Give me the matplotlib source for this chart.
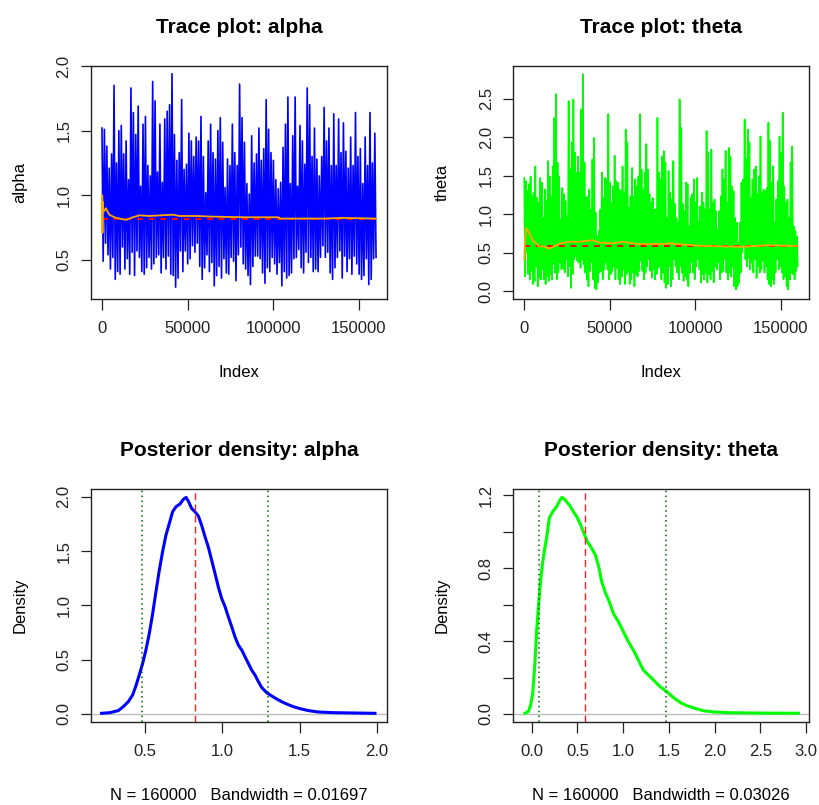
import matplotlib.pyplot as plt
import numpy as np

plt.rcParams['font.family'] = ['Liberation Sans', 'DejaVu Sans']
# the chains are dense zigzags; keep every vertex when rendering
plt.rcParams['path.simplify'] = False

n_iter = 160000

# chain envelopes: upper and lower excursions along the chain (paired)
alpha_hi = [1.52, 1.51, 1.38, 1.21, 1.32, 1.85, 1.25, 1.50, 1.54, 1.32,
            1.42, 1.12, 1.83, 1.64, 1.47, 1.69, 1.07, 1.55, 1.61, 1.23,
            1.15, 1.88, 1.73, 1.18, 1.55, 1.10, 1.59, 1.65, 1.70, 1.94,
            1.47, 1.27, 1.33, 1.74, 1.20, 1.24, 1.48, 1.42, 1.30, 1.45,
            1.42, 1.61, 1.30, 1.02, 1.42, 1.55, 1.33, 1.28, 1.50, 1.60,
            1.41, 1.06, 1.28, 1.23, 1.55, 1.33, 1.23, 1.86,
            1.60, 1.41, 1.09, 1.01, 1.46, 1.25, 1.32, 1.52, 1.27, 1.36,
            1.74, 1.51, 1.33, 1.27, 1.12, 1.05, 1.10, 1.37, 1.55, 1.76,
            1.09, 1.46, 1.76, 1.07, 1.54, 1.42, 1.24, 1.83, 1.70, 1.30,
            1.52, 1.28, 1.15, 1.30, 1.68, 1.42, 1.52, 1.23, 1.63, 1.23,
            1.59, 1.33, 1.56, 1.34, 1.21, 1.45, 1.23, 1.64, 1.30, 1.36,
            1.09, 1.45, 1.23, 1.64, 1.25, 1.48]
alpha_lo = [0.49, 0.63, 0.54, 0.43, 0.52, 0.35, 0.41, 0.39, 0.60, 0.43,
            0.51, 0.39, 0.56, 0.38, 0.57, 0.52, 0.41, 0.39, 0.44, 0.52,
            0.43, 0.47, 0.52, 0.54, 0.40, 0.52, 0.43, 0.53, 0.39, 0.38,
            0.29, 0.36, 0.57, 0.41, 0.57, 0.47, 0.51, 0.61, 0.56, 0.63,
            0.45, 0.35, 0.44, 0.54, 0.41, 0.48, 0.30, 0.38, 0.45, 0.36,
            0.51, 0.40, 0.39, 0.52, 0.49, 0.34, 0.54, 0.60,
            0.47, 0.43, 0.38, 0.31, 0.45, 0.53, 0.53, 0.51, 0.40, 0.32,
            0.44, 0.41, 0.52, 0.47, 0.39, 0.48, 0.30, 0.41, 0.36, 0.38,
            0.40, 0.51, 0.52, 0.58, 0.44, 0.40, 0.56, 0.48, 0.52, 0.41,
            0.43, 0.41, 0.52, 0.61, 0.52, 0.56, 0.40, 0.35, 0.44, 0.52,
            0.57, 0.36, 0.53, 0.41, 0.51, 0.39, 0.53, 0.47, 0.39, 0.35,
            0.38, 0.51, 0.31, 0.35, 0.51, 0.52]

theta_hi = [1.47, 1.43, 1.30, 1.39, 1.49, 1.23, 1.28, 1.62, 1.21, 1.15,
            1.47, 1.41, 0.95, 1.32, 1.17, 1.69, 1.49, 1.23, 1.62, 2.25,
            2.56, 1.67, 1.49, 0.93, 1.34, 1.26, 1.17, 0.97, 2.47, 1.58,
            1.93, 2.49, 1.80, 1.54, 1.75, 1.54, 2.36, 2.82, 1.67, 1.21,
            1.23, 1.32, 1.06, 1.71, 1.99, 1.02, 0.71, 0.78, 1.06, 1.54,
            1.21, 1.47, 1.45, 2.30, 1.41, 1.15, 1.36, 1.76, 1.43, 1.41,
            1.32, 1.30, 1.62, 1.28, 2.10, 1.93, 1.08, 1.23, 1.60, 1.23,
            1.45, 1.36, 1.49, 2.30, 1.58, 1.32, 1.54, 1.91, 1.58, 1.26,
            1.15, 1.21, 1.06, 1.06, 2.25,
            1.54, 1.45, 1.75, 1.82, 1.67, 0.95, 1.56, 1.28, 1.19, 1.69,
            1.13, 0.95, 0.89, 2.49, 2.12, 1.13, 1.04, 1.41, 1.39, 0.84,
            1.21, 1.26, 1.45, 1.15, 1.47, 0.89, 1.10, 1.28, 1.15, 1.06,
            2.08, 1.80, 1.06, 1.84, 1.15, 1.19, 1.04, 0.80, 1.04, 1.23,
            1.58, 1.45, 1.82, 1.15, 1.86, 1.75, 1.36, 1.30, 0.95, 0.89,
            0.63, 0.89, 1.41, 1.45, 2.23, 1.71, 2.10, 1.93, 1.21, 1.45,
            1.58, 1.62, 1.26, 1.49, 2.01, 1.28, 1.32, 1.30, 1.34, 2.19,
            1.95, 1.41, 1.62, 0.89, 1.19, 1.43, 2.01, 1.80, 2.32, 1.36,
            1.15, 1.19, 0.95, 1.67, 1.88, 0.84, 0.78, 0.71]
theta_lo = [0.19, 0.50, 0.22, 0.15, 0.26, 0.09, 0.13, 0.32, 0.06, 0.17,
            0.15, 0.28, 0.15, 0.09, 0.19, 0.13, 0.22, 0.15, 0.35, 0.24,
            0.15, 0.24, 0.37, 0.28, 0.30, 0.24, 0.41, 0.19, 0.32, 0.04,
            0.22, 0.41, 0.45, 0.39, 0.37, 0.30, 0.41, 0.35, 0.24, 0.15,
            0.06, 0.26, 0.37, 0.15, 0.04, 0.02, 0.11, 0.24, 0.26, 0.15,
            0.28, 0.37, 0.28, 0.15, 0.22, 0.26, 0.32, 0.15, 0.30, 0.15,
            0.09, 0.19, 0.28, 0.09, 0.22, 0.26, 0.09, 0.15, 0.24, 0.06,
            0.22, 0.19, 0.26, 0.39, 0.26, 0.15, 0.24, 0.32, 0.41, 0.26,
            0.17, 0.28, 0.15, 0.22, 0.30,
            0.32, 0.15, 0.24, 0.11, 0.04, 0.09, 0.32, 0.06, 0.15, 0.41,
            0.32, 0.24, 0.15, 0.32, 0.24, 0.13, 0.19, 0.15, 0.06, 0.24,
            0.37, 0.24, 0.15, 0.32, 0.41, 0.28, 0.11, 0.22, 0.15, 0.24,
            0.11, 0.22, 0.15, 0.26, 0.11, 0.32, 0.28, 0.37, 0.15, 0.24,
            0.26, 0.41, 0.24, 0.15, 0.24, 0.19, 0.32, 0.06, 0.02, 0.06,
            0.11, 0.24, 0.50, 0.58, 0.41, 0.32, 0.43, 0.28, 0.37, 0.24,
            0.41, 0.17, 0.32, 0.24, 0.28, 0.39, 0.24, 0.32, 0.15, 0.09,
            0.06, 0.15, 0.09, 0.24, 0.41, 0.28, 0.32, 0.24, 0.15, 0.19,
            0.06, 0.02, 0.15, 0.24, 0.22, 0.15, 0.26, 0.32]

# running (cumulative) means of each chain
alpha_rm_idx = [1, 150, 300, 450, 800, 2300, 4300, 7300, 10200, 14100,
                18000, 21900, 27700, 41400, 45300, 55000, 64800, 84300,
                103000, 104000, 130000, 140000, 160000]
alpha_rm_val = [0.72, 1.00, 0.71, 0.95, 0.87, 0.90, 0.85, 0.83, 0.82, 0.81,
                0.83, 0.845, 0.84, 0.85, 0.84, 0.84, 0.835, 0.83,
                0.83, 0.82, 0.82, 0.825, 0.82]
theta_rm_idx = [1, 400, 1200, 2300, 3700, 5100, 6600, 8600, 11500, 14500,
                17400, 21300, 26200, 32000, 39900, 43800, 51600, 57400,
                67200, 80900, 85000, 89000, 104500, 128000, 141700, 160000]
theta_rm_val = [0.41, 0.66, 0.82, 0.78, 0.72, 0.65, 0.63, 0.58, 0.58, 0.55,
                0.58, 0.62, 0.64, 0.64, 0.66, 0.63, 0.62, 0.64,
                0.61, 0.61, 0.62, 0.61, 0.585, 0.575, 0.595, 0.585]

alpha_mean = 0.82
theta_mean = 0.585
alpha_ci = [0.476, 1.298]
theta_ci = [0.08, 1.469]

# kernel density estimates
alpha_dx = [0.217, 0.271, 0.325, 0.357, 0.390, 0.418, 0.439, 0.461, 0.483,
            0.504, 0.526, 0.548, 0.569, 0.591, 0.612, 0.634, 0.656, 0.677,
            0.699, 0.725, 0.746, 0.764, 0.781, 0.800, 0.822, 0.844, 0.865,
            0.887, 0.908, 0.930, 0.952, 0.973, 0.995, 1.017, 1.038, 1.060,
            1.081, 1.103, 1.125, 1.146, 1.168, 1.189, 1.211, 1.233, 1.254,
            1.287, 1.319, 1.352, 1.384, 1.416, 1.460, 1.503, 1.557, 1.622,
            1.719, 1.849, 1.989]
alpha_dy = [0.006, 0.012, 0.031, 0.067, 0.113, 0.175, 0.258, 0.359, 0.466,
            0.589, 0.742, 0.926, 1.126, 1.325, 1.494, 1.647, 1.755, 1.862,
            1.908, 1.933, 1.975, 1.994, 1.954, 1.893, 1.862, 1.822, 1.739,
            1.632, 1.540, 1.417, 1.294, 1.172, 1.064, 0.988, 0.896, 0.804,
            0.712, 0.635, 0.589, 0.528, 0.466, 0.405, 0.359, 0.298, 0.245,
            0.196, 0.166, 0.138, 0.113, 0.092, 0.067, 0.049, 0.031, 0.018,
            0.012, 0.009, 0.006]
theta_dx = [-0.073, -0.036, -0.011, 0.011, 0.033, 0.055, 0.077, 0.098, 0.120,
            0.142, 0.164, 0.193, 0.230, 0.273, 0.310, 0.332, 0.365, 0.412,
            0.456, 0.492, 0.536, 0.572, 0.609, 0.656, 0.696, 0.733, 0.766,
            0.802, 0.849, 0.893, 0.948, 1.003, 1.057, 1.112, 1.167, 1.221,
            1.276, 1.331, 1.404, 1.476, 1.549, 1.622, 1.695, 1.786, 1.877,
            1.987, 2.169, 2.497, 2.917]
theta_dy = [0.004, 0.013, 0.049, 0.113, 0.260, 0.461, 0.607, 0.735, 0.830,
            0.905, 0.970, 1.075, 1.110, 1.138, 1.174, 1.189, 1.174, 1.147,
            1.110, 1.083, 1.037, 0.991, 0.946, 0.909, 0.873, 0.808, 0.726,
            0.671, 0.616, 0.552, 0.507, 0.452, 0.397, 0.351, 0.296, 0.241,
            0.214, 0.187, 0.150, 0.123, 0.091, 0.064, 0.046, 0.031, 0.018,
            0.011, 0.007, 0.005, 0.004]
alpha_bw = "0.01697"
theta_bw = "0.03026"

W, H = 819, 805
FS = 12
TITLE_FS = 15


def px(v):
    return v * 72.0 / 100.0


def make_ax(fig, left, top, right, bottom):
    ax = fig.add_axes([left / W, 1 - bottom / H, (right - left) / W, (bottom - top) / H])
    for s in ax.spines.values():
        s.set_color('#222222')
        s.set_linewidth(1.0)
    ax.tick_params(direction='out', length=px(10.5), width=0.9, colors='#222222',
                   labelsize=FS)
    ax.tick_params(axis='x', pad=px(11))
    ax.tick_params(axis='y', pad=px(9), labelrotation=90)
    return ax


def r_labels(ax, title, xlabel, ylabel):
    ax.set_title(title, fontsize=TITLE_FS, fontweight='bold', pad=px(33))
    ax.annotate(xlabel, xy=(0.5, 0), xycoords='axes fraction',
                xytext=(0, -px(73)), textcoords='offset points',
                ha='center', va='center', fontsize=FS)
    ax.annotate(ylabel, xy=(0, 0.5), xycoords='axes fraction',
                xytext=(-px(71), 0), textcoords='offset points',
                ha='center', va='center', rotation=90, fontsize=FS)


def trace_xy(hi, lo):
    # alternate each upper excursion with its paired lower one
    y = np.column_stack([hi, lo]).ravel()
    x = np.linspace(1, n_iter, len(y))
    return x, y


def trace_panel(ax, hi, lo, rm_idx, rm_val, mean, color, name, ylim, yticks):
    x, y = trace_xy(hi, lo)
    ax.plot(x, y, color=color, linewidth=1.2)
    ax.plot([1, n_iter], [mean, mean], color='red', linewidth=1.4,
            dashes=(3, 3))
    ax.plot(rm_idx, rm_val, color='orange', linewidth=1.3)
    ax.set_xlim(-6400, n_iter + 6400)
    ax.set_ylim(*ylim)
    ax.set_xticks([0, 50000, 100000, 150000])
    ax.set_xticklabels(['0', '50000', '100000', '150000'])
    ax.set_yticks(yticks)
    ax.set_yticklabels([f"{t:.1f}" for t in yticks], va='center')
    r_labels(ax, f"Trace plot: {name}", "Index", name)


def density_panel(ax, dx, dy, mean, ci, color, name, bw, xlim, ylim,
                  xticks, yticks, ylabels):
    ax.axhline(0, color='#bebebe', linewidth=1.0)
    ax.plot(dx, dy, color=color, linewidth=2.2, solid_joinstyle='round')
    ax.axvline(mean, color='#ff2020', linewidth=1.0, dashes=(5, 3))
    for c in ci:
        ax.axvline(c, color='darkgreen', linewidth=1.1, dashes=(1, 2.2))
    ax.set_xlim(*xlim)
    ax.set_ylim(*ylim)
    ax.set_xticks(xticks)
    ax.set_xticklabels([f"{t:.1f}" for t in xticks])
    ax.set_yticks(yticks)
    ax.set_yticklabels(ylabels, va='center')
    r_labels(ax, f"Posterior density: {name}",
             f"N = {n_iter}   Bandwidth = {bw}", "Density")


fig = plt.figure(figsize=(W / 100, H / 100), dpi=100)

ax1 = make_ax(fig, 91, 66, 387, 299)
trace_panel(ax1, alpha_hi, alpha_lo, alpha_rm_idx, alpha_rm_val, alpha_mean,
            'blue', 'alpha', (0.198, 2.0), [0.5, 1.0, 1.5, 2.0])

ax2 = make_ax(fig, 513.3, 66, 808.7, 299)
trace_panel(ax2, theta_hi, theta_lo, theta_rm_idx, theta_rm_val, theta_mean,
            '#00ff00', 'theta', (-0.104, 2.925), [0.0, 0.5, 1.0, 1.5, 2.0, 2.5])

ax3 = make_ax(fig, 91, 488.7, 387, 722)
density_panel(ax3, alpha_dx, alpha_dy, alpha_mean, alpha_ci, 'blue', 'alpha',
              alpha_bw, (0.148, 2.067), (-0.074, 2.074),
              [0.5, 1.0, 1.5, 2.0], [0.0, 0.5, 1.0, 1.5, 2.0],
              ['0.0', '0.5', '1.0', '1.5', '2.0'])

ax4 = make_ax(fig, 513.3, 488.7, 808.7, 722)
density_panel(ax4, theta_dx, theta_dy, theta_mean, theta_ci, '#00ff00', 'theta',
              theta_bw, (-0.201, 3.03), (-0.044, 1.236),
              [0.0, 0.5, 1.0, 1.5, 2.0, 2.5, 3.0],
              [0.0, 0.2, 0.4, 0.6, 0.8, 1.0, 1.2],
              ['0.0', '', '0.4', '', '0.8', '', '1.2'])

fig.savefig('out.png', dpi=100)
